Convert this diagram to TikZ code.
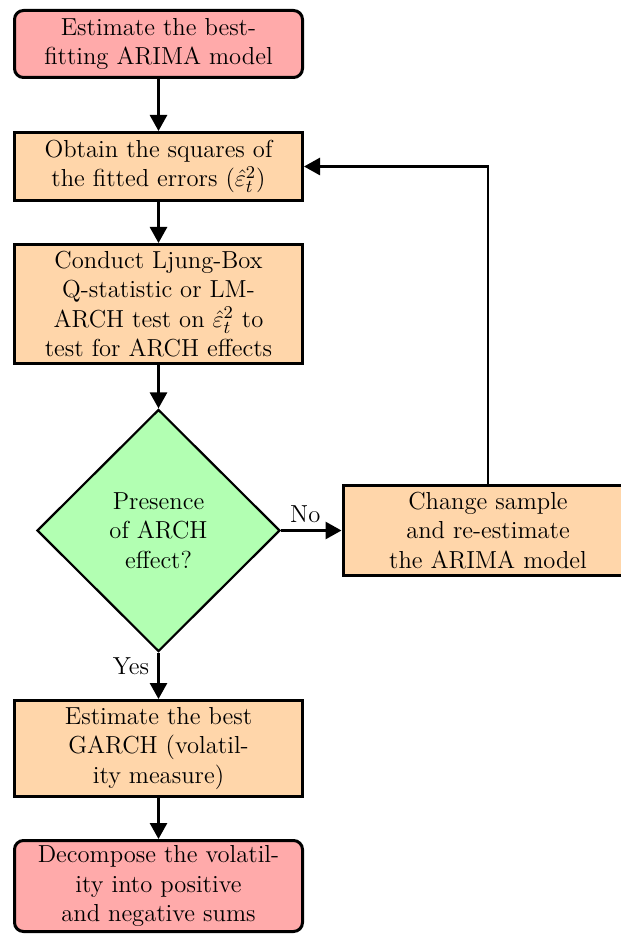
\documentclass[tikz,border=0pt]{standalone}
\usetikzlibrary{shapes.geometric,arrows.meta}
\definecolor{termfill}{RGB}{255,170,170}
\definecolor{procfill}{RGB}{255,214,170}
\definecolor{decfill}{RGB}{178,255,178}
\begin{document}
\begin{tikzpicture}[x=0.5pt,y=-0.5pt,
  every node/.style={font=\fontsize{12.3}{14.7}\selectfont, align=center, inner sep=0pt},
  term/.style={draw, line width=1.5pt, fill=termfill, rounded corners=4.5pt, minimum width=144pt},
  proc/.style={draw, line width=1.5pt, fill=procfill, minimum width=144pt},
  dec/.style={draw, line width=1.1pt, fill=decfill, diamond, minimum width=121.5pt, minimum height=121pt},
  conn/.style={line width=1.4pt, -{Triangle[length=8pt,width=8.5pt]}},
  lbl/.style={font=\fontsize{12.3}{14.7}\selectfont}
]
\useasboundingbox (0,0) rectangle (620,935);
\node[term, minimum height=33.5pt] (n1) at (158.5,44) {Estimate the best-\\fitting ARIMA model};
\node[proc, minimum height=34pt] (n2) at (158.5,166.5) {Obtain the squares of\\the fitted errors ($\hat{\varepsilon}_t^2$)};
\node[proc, minimum height=59.5pt] (n3) at (158.5,304) {Conduct Ljung-Box\\Q-statistic or LM-\\ARCH test on $\hat{\varepsilon}_t^2$ to\\test for ARCH effects};
\node[dec] (n4) at (158.5,530.5) {Presence\\of ARCH\\effect?};
\node[proc, minimum width=145pt, minimum height=45pt] (n5) at (488,530.5) {Change sample\\and re-estimate\\the ARIMA model};
\node[proc, minimum height=48pt] (n6) at (158.5,748.5) {Estimate the best\\GARCH (volatil-\\ity measure)};
\node[term, minimum height=45.5pt] (n7) at (158.5,886) {Decompose the volatil-\\ity into positive\\and negative sums};
\draw[conn] (n1) -- (n2);
\draw[conn] (n2) -- (n3);
\draw[conn] (n3) -- (n4);
\draw[conn] (n4.east) -- node[lbl, above=3pt, pos=0.4] {No} (n5.west);
\draw[conn] (n4) -- node[lbl, left=4pt, pos=0.3] {Yes} (n6);
\draw[conn] (n6) -- (n7);
\draw[conn] (n5.north) |- (n2.east);
\end{tikzpicture}
\end{document}
